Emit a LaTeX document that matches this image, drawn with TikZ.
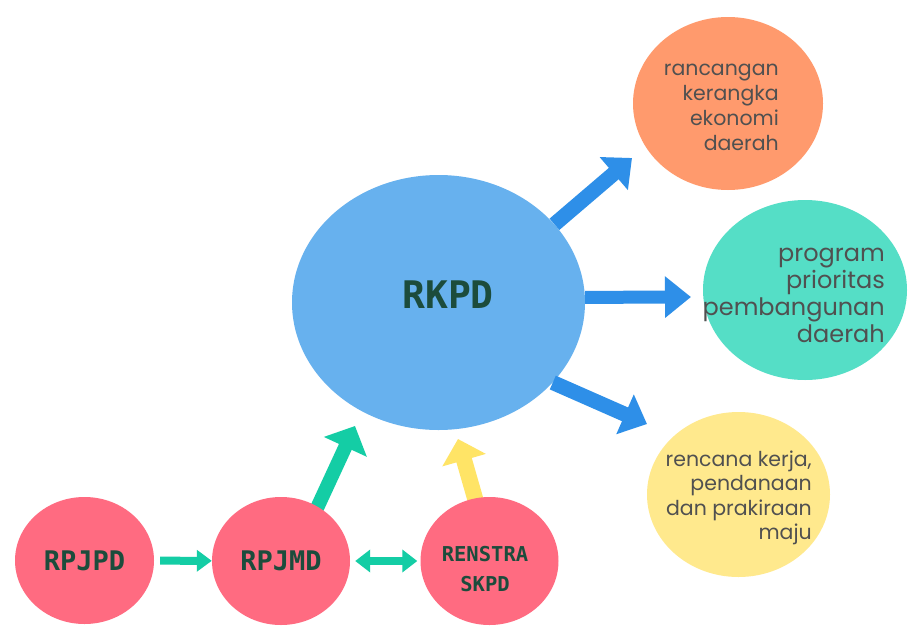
\documentclass[tikz,border=0pt]{standalone}
\usepackage{fontspec}
\setmainfont{Poppins}
\newfontfamily\labfont{DejaVu Sans Mono}
\usetikzlibrary{arrows.meta,shapes.geometric,backgrounds}
\definecolor{rkblue}{RGB}{103,177,238}
\definecolor{arrblue}{RGB}{46,143,232}
\definecolor{orangec}{RGB}{255,154,109}
\definecolor{tealc}{RGB}{85,222,198}
\definecolor{yellowc}{RGB}{255,233,141}
\definecolor{pinkc}{RGB}{255,107,129}
\definecolor{arrteal}{RGB}{20,205,165}
\definecolor{arryellow}{RGB}{255,228,102}
\definecolor{darkgreen}{RGB}{28,76,60}
\definecolor{graytext}{RGB}{80,80,80}
\tikzset{
  bubble/.style={ellipse, inner sep=0pt, draw=none},
  lbl/.style={font=\labfont\bfseries, text=darkgreen, inner sep=0pt, align=center},
  desc/.style={text=graytext, align=right, inner sep=0pt, anchor=east},
  bigarrow/.style={line width=15pt, -{Triangle[length=24pt,width=42pt]}},
  smallarrow/.style={line width=8pt, -{Triangle[length=15pt,width=21pt]}},
  dblarrow/.style={line width=8pt, {Triangle[length=15pt,width=22pt]}-{Triangle[length=15pt,width=22pt]}},
}
\begin{document}
\begin{tikzpicture}[x=1pt,y=-1pt]
\useasboundingbox (0,0) rectangle (911,627);
% bubbles
\node[bubble, fill=rkblue, minimum width=293pt, minimum height=255pt] (rkpd) at (438.5,302.5) {};
\node[lbl, font=\labfont\bfseries\fontsize{38}{38}\selectfont] (rkpdtxt) at (448,295) {RKPD};
\node[bubble, fill=orangec, minimum width=190pt, minimum height=173pt] (ekon) at (728,103.5) {};
\node[bubble, fill=tealc, minimum width=204pt, minimum height=180pt] (prog) at (805,290) {};
\node[bubble, fill=yellowc, minimum width=183pt, minimum height=165pt] (renc) at (738.5,494.5) {};
\node[desc, font=\fontsize{20.5}{25}\selectfont] (ekontxt) at (779,107) {rancangan\\kerangka\\ekonomi\\daerah};
\node[desc, font=\fontsize{24}{27}\selectfont] (progtxt) at (885,295) {program\\prioritas\\pembangunan\\daerah};
\node[desc, font=\fontsize{20.5}{24.5}\selectfont] (renctxt) at (812,498) {rencana kerja,\\pendanaan\\dan prakiraan\\maju};
\node[bubble, fill=pinkc, minimum width=139pt, minimum height=127pt, lbl, font=\labfont\bfseries\fontsize{27}{27}\selectfont] (rpjpd) at (84.5,560.5) {RPJPD};
\node[bubble, fill=pinkc, minimum width=138pt, minimum height=128pt, lbl, font=\labfont\bfseries\fontsize{27}{27}\selectfont] (rpjmd) at (281,561) {RPJMD};
\node[bubble, fill=pinkc, minimum width=138pt, minimum height=128pt] (renstra) at (489.5,561) {};
\node[lbl, font=\labfont\bfseries\fontsize{20.5}{30}\selectfont] (renstratxt) at (485,569) {RENSTRA\\SKPD};
% arrow tips
\coordinate (tipA) at (632,158);
\coordinate (tipB) at (691,297);
\coordinate (tipC) at (647,424);
\coordinate (tipD) at (355,426);
\coordinate (tipE) at (458,439);
\draw[bigarrow, arrblue] (rkpd.34) -- (tipA);
\draw[bigarrow, arrblue, line width=13pt, -{Triangle[length=26pt,width=40pt]}] (rkpd.2) -- (tipB);
\draw[bigarrow, arrblue] (rkpd.-35) -- (tipC);
\begin{pgfonlayer}{background}
\fill[white] (0,0) rectangle (911,627);
\draw[bigarrow, arrteal, line width=14pt, -{Triangle[length=23pt,width=46pt]}, shorten <=-10pt] (rpjmd.56) -- (tipD);
\draw[bigarrow, arryellow, line width=16pt, -{Triangle[length=22pt,width=44pt]}, shorten <=-10pt] (renstra.103) -- (tipE);
\end{pgfonlayer}
\draw[smallarrow, arrteal, shorten <=6pt] (rpjpd) -- (rpjmd);
\draw[dblarrow, arrteal, shorten <=5pt, shorten >=3pt] (rpjmd) -- (renstra);
\end{tikzpicture}
\end{document}
